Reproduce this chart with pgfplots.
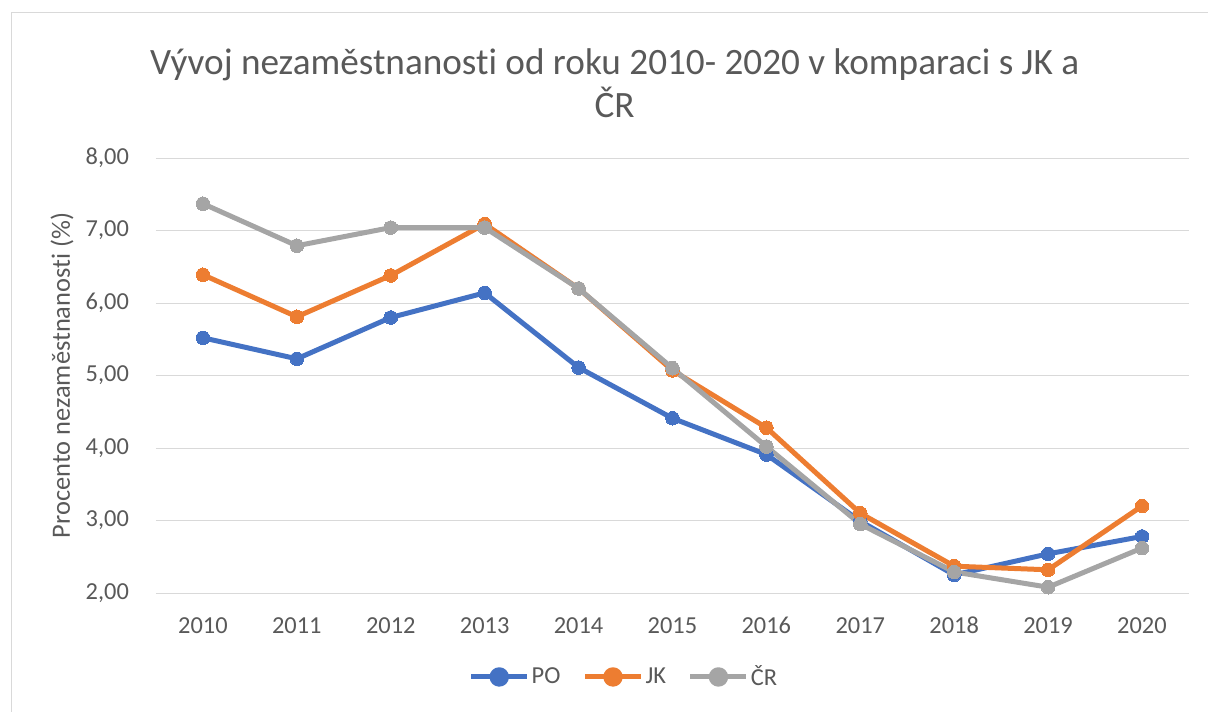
\documentclass[border=0pt]{standalone}
\usepackage{pgfplots}
\pgfplotsset{compat=1.18}
\usepackage{fontspec}
\setmainfont[Ligatures=NoCommon]{Carlito}
\definecolor{txt}{HTML}{595959}
\definecolor{gridc}{HTML}{D9D9D9}
\definecolor{cPO}{HTML}{4472C4}
\definecolor{cJK}{HTML}{ED7D31}
\definecolor{cCR}{HTML}{A5A5A5}
\begin{document}
\begin{tikzpicture}
\useasboundingbox (0pt,0pt) rectangle (604pt,355.5pt);
% chart frame (cut off at the right and bottom)
\draw[gridc, line width=0.5pt] (5.5pt,-10pt) -- (5.5pt,349pt) -- (615pt,349pt);
\begin{axis}[
  at={(78pt,59pt)}, anchor=south west,
  scale only axis,
  width=516.5pt, height=217.5pt,
  xmin=2009.5, xmax=2020.5,
  ymin=2, ymax=8,
  xtick={2010,...,2020},
  ytick={2,3,...,8},
  axis line style={draw=none},
  major tick length=0pt,
  ymajorgrids, grid style={gridc, line width=0.5pt},
  tick label style={font=\fontsize{12.2}{14}\selectfont, text=txt},
  /pgf/number format/assume math mode=true,
  xticklabel style={/pgf/number format/1000 sep={}, yshift=-8pt, text height=8.5pt, text depth=2pt},
  yticklabel style={/pgf/number format/.cd, fixed, fixed zerofill, precision=2, use comma, /tikz/.cd, xshift=-10pt},
  ylabel={Procento nezaměstnanosti (\%)},
  ylabel style={at={(axis description cs:-0.091,0.5)}, anchor=center, font=\fontsize{13.2}{15}\selectfont, text=txt},
  title={Vývoj nezaměstnanosti od roku 2010- 2020 v komparaci s JK a\\ČR},
  title style={at={(axis description cs:0.444,1.145)}, anchor=center, align=center, font=\fontsize{18.6}{21.5}\selectfont, text=txt},
  legend style={at={(axis description cs:0.454,-0.193)}, anchor=center, draw=none, legend columns=3,
    font=\fontsize{12.2}{14}\selectfont, text=txt, /tikz/every even column/.append style={column sep=9pt},
    /tikz/every odd column/.append style={column sep=-1pt}},
  legend image code/.code={\draw[#1, mark=none] (0pt,0pt) -- (28pt,0pt); \fill[#1] (14pt,0pt) circle (3.6pt);},
  every axis plot/.append style={line width=2.5pt, mark=*, mark size=3.4pt, line join=round},
]
\addplot[cPO, mark options={fill=cPO, draw=cPO, line width=0pt}] coordinates {
  (2010,5.52) (2011,5.23) (2012,5.80) (2013,6.14) (2014,5.11) (2015,4.41)
  (2016,3.91) (2017,2.99) (2018,2.25) (2019,2.54) (2020,2.78)
};
\addlegendentry{PO}
\addplot[cJK, mark options={fill=cJK, draw=cJK, line width=0pt}] coordinates {
  (2010,6.39) (2011,5.81) (2012,6.38) (2013,7.09) (2014,6.20) (2015,5.07)
  (2016,4.28) (2017,3.10) (2018,2.37) (2019,2.32) (2020,3.20)
};
\addlegendentry{JK}
\addplot[cCR, mark options={fill=cCR, draw=cCR, line width=0pt}] coordinates {
  (2010,7.37) (2011,6.79) (2012,7.04) (2013,7.04) (2014,6.20) (2015,5.10)
  (2016,4.02) (2017,2.95) (2018,2.29) (2019,2.08) (2020,2.62)
};
\addlegendentry{ČR}
\end{axis}
\end{tikzpicture}
\end{document}
